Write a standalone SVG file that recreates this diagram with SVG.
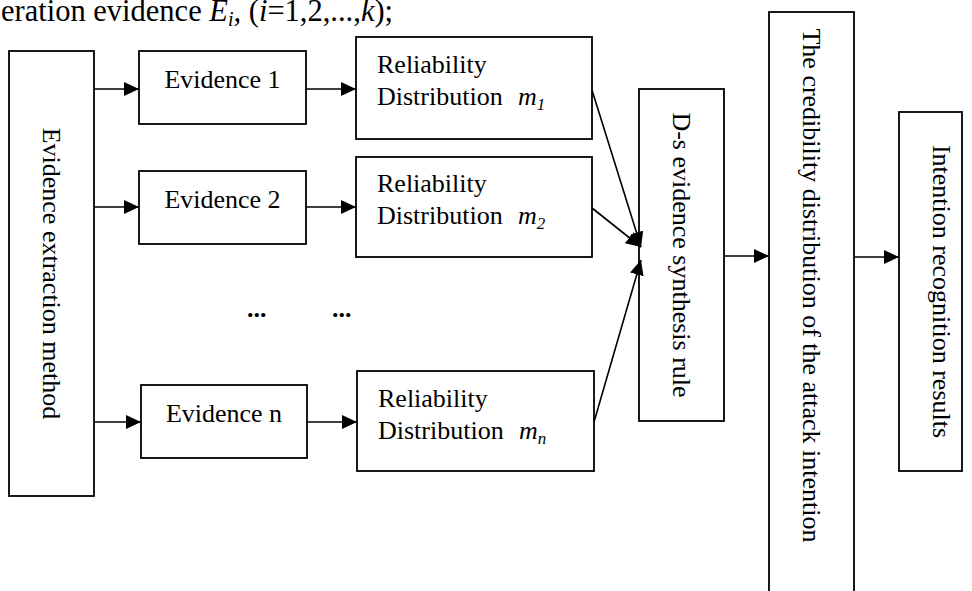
<svg xmlns="http://www.w3.org/2000/svg" width="972" height="591" viewBox="0 0 972 591">
<style>
  .box{fill:#fff;stroke:#000;stroke-width:1.8}
  .t{font-family:"Liberation Serif","Times New Roman",serif;font-size:26px;fill:#000}
  .it{font-style:italic}
  .sub{font-size:17px;font-style:italic}
  .con{stroke:#000;stroke-width:1.6;fill:none;marker-end:url(#ah)}
</style>
<defs>
  <marker id="ah" markerUnits="userSpaceOnUse" markerWidth="16" markerHeight="14" refX="15" refY="7" orient="auto">
    <path d="M0,0 L15,7 L0,14 Z" fill="#000"/>
  </marker>
</defs>
<rect width="972" height="591" fill="#fff"/>
<text id="title" class="t" x="1" y="21" style="font-size:30.5px">eration evidence <tspan class="it">E</tspan><tspan class="it" style="font-size:20px" dy="5">i</tspan><tspan class="it" dy="-5">,</tspan> (<tspan class="it">i</tspan>=1,2,...,<tspan class="it">k</tspan>);</text>

<g id="extraction">
  <rect class="box" x="9" y="51" width="85" height="445"/>
  <text class="t" text-anchor="middle" transform="translate(43,273.5) rotate(90)">Evidence extraction method</text>
</g>
<g id="evidence1">
  <rect class="box" x="139" y="51" width="167" height="73"/>
  <text class="t" x="222.5" y="88" text-anchor="middle">Evidence 1</text>
</g>
<g id="evidence2">
  <rect class="box" x="139" y="171" width="167" height="73"/>
  <text class="t" x="222.5" y="208" text-anchor="middle">Evidence 2</text>
</g>
<g id="evidencen">
  <rect class="box" x="141" y="385" width="166" height="73"/>
  <text class="t" x="224" y="422" text-anchor="middle">Evidence n</text>
</g>
<g id="ellipsis">
  <text class="t" x="247" y="317" style="font-weight:bold">...</text>
  <text class="t" x="332" y="317" style="font-weight:bold">...</text>
</g>
<g id="rel1">
  <rect class="box" x="356" y="37" width="236" height="102"/>
  <text class="t" x="377" y="73">Reliability</text>
  <text class="t" x="377" y="105">Distribution<tspan class="it" x="518">m</tspan><tspan class="sub" dy="5">1</tspan></text>
</g>
<g id="rel2">
  <rect class="box" x="356" y="157" width="236" height="100"/>
  <text class="t" x="377" y="192">Reliability</text>
  <text class="t" x="377" y="224">Distribution<tspan class="it" x="518">m</tspan><tspan class="sub" dy="5">2</tspan></text>
</g>
<g id="reln">
  <rect class="box" x="357" y="371" width="237" height="100"/>
  <text class="t" x="378" y="407">Reliability</text>
  <text class="t" x="378" y="439">Distribution<tspan class="it" x="519">m</tspan><tspan class="sub" dy="5">n</tspan></text>
</g>
<g id="ds">
  <rect class="box" x="639" y="89" width="85" height="332"/>
  <text class="t" text-anchor="middle" transform="translate(673,255) rotate(90)">D-s evidence synthesis rule</text>
</g>
<g id="credibility">
  <rect class="box" x="769" y="12" width="85" height="600"/>
  <text class="t" text-anchor="middle" transform="translate(803,285.5) rotate(90)">The credibility distribution of the attack intention</text>
</g>
<g id="intention">
  <rect class="box" x="899" y="112" width="63" height="359"/>
  <text class="t" text-anchor="middle" transform="translate(933,291.5) rotate(90)">Intention recognition results</text>
</g>

<g id="connectors">
  <line class="con" x1="94" y1="89" x2="139" y2="89"/>
  <line class="con" x1="94" y1="207" x2="139" y2="207"/>
  <line class="con" x1="94" y1="422" x2="141" y2="422"/>
  <line class="con" x1="306" y1="89" x2="356" y2="89"/>
  <line class="con" x1="306" y1="207" x2="356" y2="207"/>
  <line class="con" x1="307" y1="422" x2="357" y2="422"/>
  <line class="con" x1="592" y1="90" x2="641" y2="247"/>
  <line class="con" x1="592" y1="208" x2="641" y2="247"/>
  <line class="con" x1="594" y1="422" x2="641" y2="260"/>
  <line class="con" x1="724" y1="256" x2="769" y2="256"/>
  <line class="con" x1="854" y1="257" x2="899" y2="257"/>
</g>
</svg>
